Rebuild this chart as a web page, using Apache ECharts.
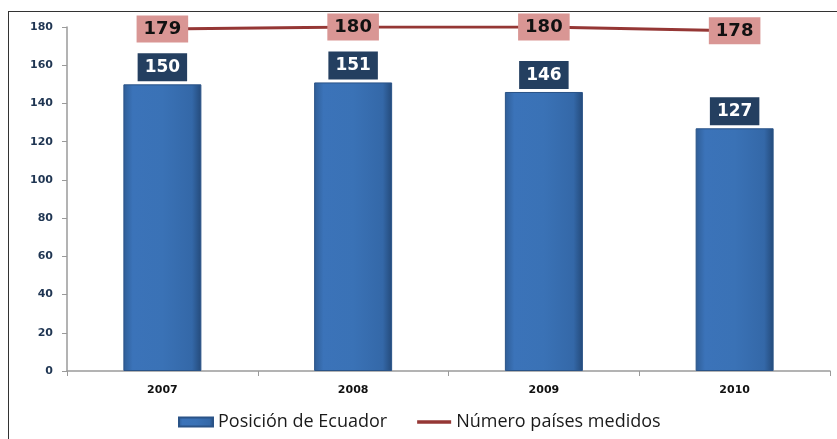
<!DOCTYPE html>
<html>
<head>
<meta charset="utf-8">
<script src="https://cdn.jsdelivr.net/npm/echarts@6/dist/echarts.min.js"></script>
<style>
  html, body { margin: 0; padding: 0; background: #fff; }
  #frame { position: absolute; left: 8px; top: 11px; width: 840px; height: 440px; border-left: 1.5px solid #333; border-top: 1.5px solid #333; box-sizing: border-box; }
  #chart { position: absolute; left: 0; top: 0; width: 837px; height: 439px; }
</style>
</head>
<body>
<div id="frame"></div>
<div id="chart"></div>
<script>
  // datos
  var years = ['2007', '2008', '2009', '2010'];
  var posicion = [150, 151, 146, 127];
  var paises = [179, 180, 180, 178];
  var yTicks = [0, 20, 40, 60, 80, 100, 120, 140, 160, 180];

  var chart = echarts.init(document.getElementById('chart'));
  var option = {
    animation: false,
    grid: { left: 67, right: 7, top: 27, bottom: 68 },
    legend: {
      bottom: 3,
      left: 173,
      itemWidth: 34,
      itemHeight: 9,
      itemGap: 30,
      textStyle: { fontFamily: 'Open Sans', fontSize: 18, color: '#1a1a1a' },
      data: [
        { name: 'Posición de Ecuador', icon: 'rect' },
        { name: 'Número países medidos', icon: 'path://M0,0H34V3.5H0Z' }
      ]
    },
    xAxis: {
      type: 'category',
      data: years,
      axisLine: { lineStyle: { color: '#9a9a9a', width: 1.5 } },
      axisTick: { show: true, length: 5, lineStyle: { color: '#9a9a9a' } },
      axisLabel: { fontFamily: 'DejaVu Sans', fontWeight: 'bold', fontSize: 11, color: '#111', margin: 14 }
    },
    yAxis: {
      type: 'value',
      min: 0,
      max: 180,
      interval: 20,
      axisLine: { show: true, lineStyle: { color: '#9a9a9a', width: 1.5 } },
      axisTick: { show: true, length: 5, lineStyle: { color: '#9a9a9a' } },
      splitLine: { show: false },
      axisLabel: {
        fontFamily: 'DejaVu Sans', fontWeight: 'bold', fontSize: 11, color: '#1f3552', margin: 14,
        formatter: function (v) { return yTicks.indexOf(v) >= 0 ? String(v) : ''; }
      }
    },
    series: [
      {
        name: 'Posición de Ecuador',
        type: 'bar',
        data: posicion,
        barWidth: 78,
        itemStyle: {
          color: {
            type: 'linear', x: 0, y: 0, x2: 1, y2: 0,
            colorStops: [
              { offset: 0, color: '#2f5d96' },
              { offset: 0.12, color: '#3b73b9' },
              { offset: 0.5, color: '#3a72b6' },
              { offset: 0.88, color: '#3468a8' },
              { offset: 1, color: '#244a7a' }
            ]
          },
          borderColor: '#2a5387',
          borderWidth: 1
        },
        label: {
          show: true,
          position: 'top',
          distance: 3,
          fontFamily: 'DejaVu Sans',
          fontWeight: 'bold',
          fontSize: 17,
          color: '#fff',
          backgroundColor: '#243f60',
          padding: [6, 7, 5, 7]
        }
      },
      {
        name: 'Número países medidos',
        type: 'line',
        data: paises,
        symbol: 'circle',
        symbolSize: 1,
        showSymbol: true,
        lineStyle: { color: '#953735', width: 3 },
        itemStyle: { color: '#953735' },
        label: {
          show: true,
          position: 'top',
          distance: 0,
          offset: [0, 14],
          fontFamily: 'DejaVu Sans',
          fontWeight: 'bold',
          fontSize: 18,
          color: '#111',
          backgroundColor: '#d99694',
          padding: [5, 7, 4, 7]
        },
        z: 3
      }
    ]
  };
  chart.setOption(option);
</script>
</body>
</html>
